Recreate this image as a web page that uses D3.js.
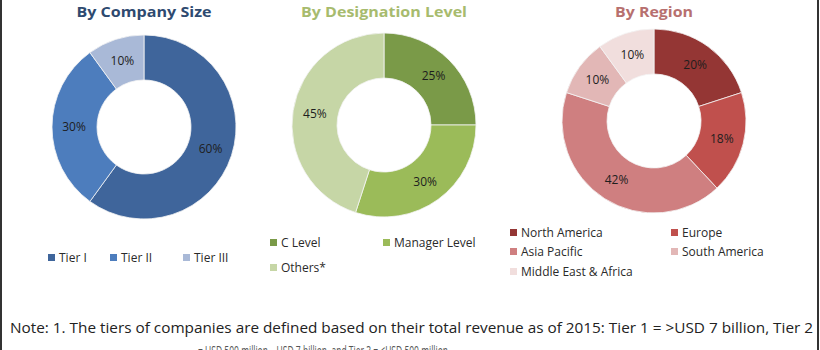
<!DOCTYPE html>
<html>
<head>
<meta charset="utf-8">
<script src="https://cdn.jsdelivr.net/npm/d3@7"></script>
<style>
  body { margin: 0; background: #fff; }
  svg { display: block; font-family: "Open Sans", sans-serif; }
</style>
</head>
<body>
<svg id="chart" width="820" height="350"></svg>
<script>
// data
const sizeLabels = ["Tier I", "Tier II", "Tier III"];
const sizeValues = [60, 30, 10];
const sizeColors = ["#3f659b", "#4d7dbd", "#a9b9d7"];

const levelLabels = ["C Level", "Manager Level", "Others*"];
const levelValues = [25, 30, 45];
const levelColors = ["#7a9a48", "#9bbb59", "#c6d6a6"];

const regionLabels = ["North America", "Europe", "Asia Pacific", "South America", "Middle East & Africa"];
const regionValues = [20, 18, 42, 10, 10];
const regionColors = ["#943634", "#c0504d", "#cf7f80", "#e2b7b6", "#f1dedd"];

const titles = ["By Company Size", "By Designation Level", "By Region"];
const noteLines = [
    "Note: 1. The tiers of companies are defined based on their total revenue as of 2015: Tier 1 = >USD 7 billion, Tier 2",
    "= USD 500 million – USD 7 billion, and Tier 3 = <USD 500 million"
];

const svg = d3.select("#chart");

// borders on the left and right edge
svg.append("line").attr("x1", 1).attr("x2", 1).attr("y1", 0).attr("y2", 350)
    .attr("stroke", "#333").attr("stroke-width", 2);
svg.append("line").attr("x1", 818).attr("x2", 818).attr("y1", 0).attr("y2", 350)
    .attr("stroke", "#333").attr("stroke-width", 2);

const pie = d3.pie().sort(null).value(d => d.value);

// draw one donut with its title
function drawDonut(labels, values, colors, cx, cy, title, titleColor, titleWidth) {
    const data = labels.map((l, i) => ({ label: l, value: values[i] }));
    const color = d3.scaleOrdinal().domain(labels).range(colors);
    const arc = d3.arc().innerRadius(47).outerRadius(92);
    const labelArc = d3.arc().innerRadius(70).outerRadius(70);

    const g = svg.append("g").attr("transform", `translate(${cx}, ${cy})`);
    g.selectAll("path")
        .data(pie(data))
        .join("path")
        .attr("d", arc)
        .attr("fill", d => color(d.data.label))
        .attr("stroke", "#f4f4f4")
        .attr("stroke-width", 0.8);

    g.selectAll("text")
        .data(pie(data))
        .join("text")
        .attr("transform", d => `translate(${labelArc.centroid(d)})`)
        .attr("text-anchor", "middle")
        .attr("dy", "0.35em")
        .attr("font-size", 12)
        .attr("fill", "#1e1e1e")
        .text(d => d.data.value + "%");

    svg.append("text")
        .attr("x", cx)
        .attr("y", 17)
        .attr("text-anchor", "middle")
        .attr("font-size", 15)
        .attr("font-weight", "bold")
        .attr("fill", titleColor)
        .attr("textLength", titleWidth)
        .attr("lengthAdjust", "spacingAndGlyphs")
        .text(title);

    return color;
}

const c1 = drawDonut(sizeLabels, sizeValues, sizeColors, 144, 127, titles[0], "#2e4a70", 135);
const c2 = drawDonut(levelLabels, levelValues, levelColors, 384, 125, titles[1], "#a7bb6e", 166);
const c3 = drawDonut(regionLabels, regionValues, regionColors, 654, 121, titles[2], "#b7706f", 78);

// legends
function drawLegend(labels, color, pos) {
    const g = svg.append("g");
    const item = g.selectAll("g")
        .data(labels)
        .join("g")
        .attr("transform", (d, i) => `translate(${pos[i][0]}, ${pos[i][1]})`);
    item.append("rect")
        .attr("x", 0).attr("y", -4)
        .attr("width", 7).attr("height", 7)
        .attr("fill", d => color(d));
    item.append("text")
        .attr("x", 11)
        .attr("dy", "0.35em")
        .attr("font-size", 12)
        .attr("fill", "#2a2a2a")
        .text(d => d);
}

drawLegend(sizeLabels, c1, [[48, 258], [110, 258], [183, 258]]);
drawLegend(levelLabels, c2, [[270, 243], [383, 243], [270, 268]]);
drawLegend(regionLabels, c3, [[510, 233], [671, 233], [510, 252], [671, 252], [510, 272]]);

// note at the bottom
svg.append("text")
    .attr("x", 10).attr("y", 333)
    .attr("font-size", 14)
    .attr("fill", "#222")
    .attr("textLength", 803)
    .attr("lengthAdjust", "spacingAndGlyphs")
    .text(noteLines[0]);
svg.append("text")
    .attr("x", 198).attr("y", 356)
    .attr("font-size", 14)
    .attr("fill", "#555")
    .attr("textLength", 250)
    .attr("lengthAdjust", "spacingAndGlyphs")
    .text(noteLines[1]);
</script>
</body>
</html>
